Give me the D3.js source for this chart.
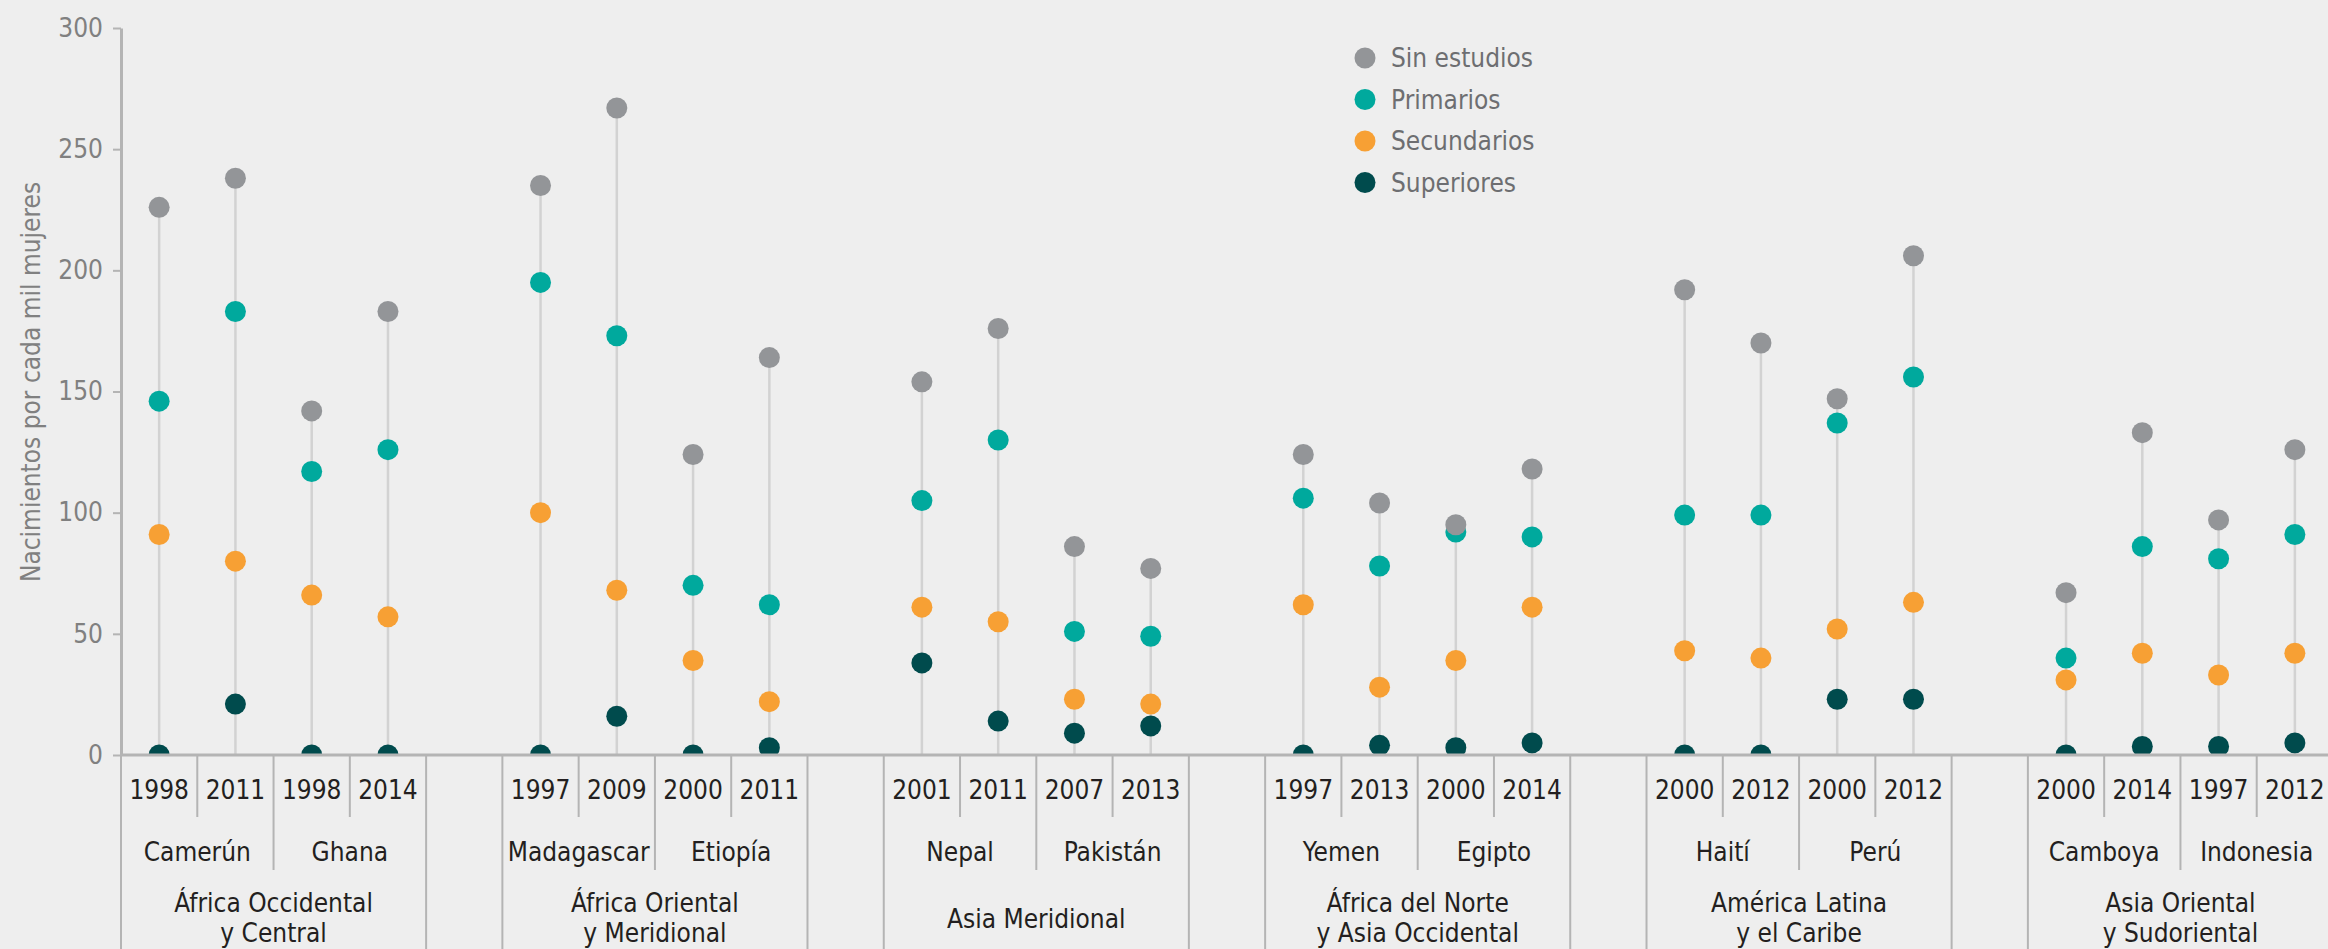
<!DOCTYPE html>
<html>
<head>
<meta charset="utf-8">
<script src="https://cdn.jsdelivr.net/npm/d3@7"></script>
<style>
  body { margin: 0; background: #eeeeee; }
  svg { display: block; }
  text { font-family: "Liberation Sans Narrow", "DejaVu Sans Condensed", "Arial Narrow", sans-serif; }
</style>
</head>
<body>
<script>
// regions, each with two countries, each with two survey years
var regions = [
  ['África Occidental', 'y Central'],
  ['África Oriental', 'y Meridional'],
  ['Asia Meridional'],
  ['África del Norte', 'y Asia Occidental'],
  ['América Latina', 'y el Caribe'],
  ['Asia Oriental', 'y Sudoriental']
];
var countries = ['Camerún', 'Ghana', 'Madagascar', 'Etiopía', 'Nepal', 'Pakistán',
  'Yemen', 'Egipto', 'Haití', 'Perú', 'Camboya', 'Indonesia'];
var years = ['1998', '2011', '1998', '2014', '1997', '2009', '2000', '2011',
  '2001', '2011', '2007', '2013', '1997', '2013', '2000', '2014',
  '2000', '2012', '2000', '2012', '2000', '2014', '1997', '2012'];

var sinEstudios = [226, 238, 142, 183, 235, 267, 124, 164, 154, 176, 86, 77,
  124, 104, 95, 118, 192, 170, 147, 206, 67, 133, 97, 126];
var primarios = [146, 183, 117, 126, 195, 173, 70, 62, 105, 130, 51, 49,
  106, 78, 92, 90, 99, 99, 137, 156, 40, 86, 81, 91];
var secundarios = [91, 80, 66, 57, 100, 68, 39, 22, 61, 55, 23, 21,
  62, 28, 39, 61, 43, 40, 52, 63, 31, 42, 33, 42];
var superiores = [0, 21, 0, 0, 0, 16, 0, 3, 38, 14, 9, 12,
  0, 4, 3, 5, 0, 0, 23, 23, 0, 3.5, 3.5, 5];

var yTicks = [0, 50, 100, 150, 200, 250, 300];

var series = [
  { name: 'Sin estudios', values: sinEstudios, color: '#939598' },
  { name: 'Primarios', values: primarios, color: '#00a99d' },
  { name: 'Secundarios', values: secundarios, color: '#f7a034' },
  { name: 'Superiores', values: superiores, color: '#004b4d' }
];
// overlap order seen in the picture: grey sits on top
var drawOrder = [1, 2, 3, 0];

var width = 2328, height = 949;
var fontSize = '26px';
var svg = d3.select('body').append('svg')
  .attr('width', width)
  .attr('height', height);

// slots: 4 per region plus an empty one between regions
var slots = [];
regions.forEach(function(r, ri) {
  for (var k = 0; k < 4; k++) slots.push('c' + (ri * 4 + k));
  if (ri < regions.length - 1) slots.push('gap' + ri);
});

var x = d3.scaleBand().domain(slots).range([121, 2333]).padding(0);
var y = d3.scaleLinear().domain([0, 300]).range([755, 28]);
var bw = x.bandwidth();
var cx = function(i) { return x('c' + i) + bw / 2; };

svg.append('defs').append('clipPath').attr('id', 'plot')
  .append('rect')
  .attr('x', 0).attr('y', 0)
  .attr('width', width).attr('height', y(0));

var plot = svg.append('g').attr('clip-path', 'url(#plot)');

// stems
plot.selectAll('line.stem')
  .data(years)
  .enter().append('line')
  .attr('class', 'stem')
  .attr('x1', function(d, i) { return cx(i); })
  .attr('x2', function(d, i) { return cx(i); })
  .attr('y1', y(0))
  .attr('y2', function(d, i) {
    return y(d3.max(series, function(s) { return s.values[i]; }));
  })
  .style('stroke', '#d2d2d2')
  .style('stroke-width', 2.5);

drawOrder.forEach(function(si) {
  var s = series[si];
  plot.selectAll('circle.s' + si)
    .data(s.values)
    .enter().append('circle')
    .attr('class', 's' + si)
    .attr('cx', function(d, i) { return cx(i); })
    .attr('cy', function(d) { return y(d); })
    .attr('r', 10.5)
    .style('fill', s.color);
});

// y axis
var yAxis = svg.append('g')
  .attr('transform', 'translate(121,0)')
  .call(d3.axisLeft(y).tickValues(yTicks).tickSize(8).tickSizeOuter(0).tickPadding(10));
yAxis.select('.domain').style('stroke', '#b4b4b4').style('stroke-width', 3);
yAxis.selectAll('.tick line').style('stroke', '#b4b4b4').style('stroke-width', 2);
yAxis.selectAll('.tick text')
  .style('font-size', fontSize)
  .style('fill', '#808080')
  .style('font-family', '"Liberation Sans Narrow", "DejaVu Sans Condensed", sans-serif');

svg.append('text')
  .attr('transform', 'translate(40,382) rotate(-90)')
  .style('text-anchor', 'middle')
  .style('font-size', fontSize)
  .style('fill', '#808080')
  .text('Nacimientos por cada mil mujeres');

// bottom frame lines
var lineColor = '#b4b4b4';
svg.append('line')
  .attr('x1', 121).attr('x2', width)
  .attr('y1', y(0)).attr('y2', y(0))
  .style('stroke', lineColor).style('stroke-width', 3);

var seps = [];
regions.forEach(function(r, ri) {
  var first = ri * 4;
  var x0 = x('c' + first), x1 = x('c' + (first + 3)) + bw;
  seps.push({ x: x0, y2: height });
  seps.push({ x: x1, y2: height });
  seps.push({ x: x('c' + (first + 1)), y2: 817 });
  seps.push({ x: x('c' + (first + 2)), y2: 870 });
  seps.push({ x: x('c' + (first + 3)), y2: 817 });
});
svg.selectAll('line.sep')
  .data(seps)
  .enter().append('line')
  .attr('class', 'sep')
  .attr('x1', function(d) { return d.x; })
  .attr('x2', function(d) { return d.x; })
  .attr('y1', y(0))
  .attr('y2', function(d) { return d.y2; })
  .style('stroke', lineColor)
  .style('stroke-width', 2);

var labelStyle = function(sel) {
  sel.style('text-anchor', 'middle')
    .style('font-size', fontSize)
    .style('fill', '#231f20');
};

svg.selectAll('text.year')
  .data(years)
  .enter().append('text')
  .attr('class', 'year')
  .attr('x', function(d, i) { return cx(i); })
  .attr('y', 799)
  .call(labelStyle)
  .text(function(d) { return d; });

svg.selectAll('text.country')
  .data(countries)
  .enter().append('text')
  .attr('class', 'country')
  .attr('x', function(d, i) { return x('c' + (i * 2)) + bw; })
  .attr('y', 861)
  .call(labelStyle)
  .text(function(d) { return d; });

var regionText = svg.selectAll('text.region')
  .data(regions)
  .enter().append('text')
  .attr('class', 'region')
  .attr('x', function(d, i) { return x('c' + (i * 4 + 2)); })
  .attr('y', function(d) { return d.length > 1 ? 912 : 928; })
  .call(labelStyle);

regionText.selectAll('tspan')
  .data(function(d) { return d; })
  .enter().append('tspan')
  .attr('x', function() { return d3.select(this.parentNode).attr('x'); })
  .attr('dy', function(d, i) { return i === 0 ? 0 : 30; })
  .text(function(d) { return d; });

// legend
var legend = svg.append('g').attr('transform', 'translate(1365,58)');
series.forEach(function(s, i) {
  legend.append('circle')
    .attr('cx', 0)
    .attr('cy', i * 41.5)
    .attr('r', 10.5)
    .style('fill', s.color);
  legend.append('text')
    .attr('x', 26)
    .attr('y', i * 41.5)
    .attr('dy', '0.35em')
    .style('font-size', fontSize)
    .style('fill', '#6d6e71')
    .text(s.name);
});
</script>
</body>
</html>
